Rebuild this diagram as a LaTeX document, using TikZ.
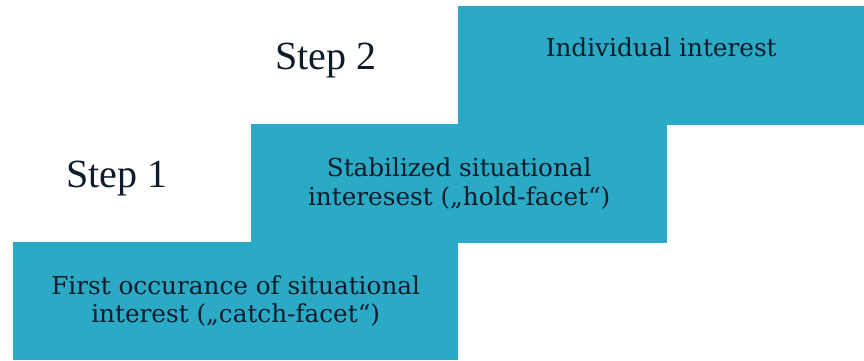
\documentclass[tikz,border=0pt]{standalone}
\usepackage{fontspec}
\setmainfont{DejaVu Serif}
\newfontfamily\steplabelfont{Liberation Serif}
\usepackage{xcolor}
\usepackage{tikz}
\definecolor{teal}{HTML}{2BAAC6}
\definecolor{ink}{HTML}{0D1B2A}
\tikzset{
  stairbox/.style={fill=teal, draw=none, inner sep=0pt, anchor=south west,
    text=ink, align=center, font=\fontsize{24.7}{28.5}\selectfont},
  steplab/.style={text=ink, anchor=base, font=\steplabelfont\fontsize{40}{44}\selectfont},
}

\begin{document}
\begin{tikzpicture}[x=1pt,y=1pt]
  \useasboundingbox (0,0) rectangle (864,360);

  \node[stairbox, minimum width=445pt, minimum height=117.5pt] (catch) at (13,0)
    {First occurance of situational\\interest („catch-facet“)};
  \node[stairbox, minimum width=416pt, minimum height=118.5pt] (hold) at (251,117)
    {Stabilized situational\\interesest („hold-facet“)};
  \node[stairbox, minimum width=406pt, minimum height=119pt] (indiv) at (458,235)
    {Individual interest\\\strut};

  \node[steplab] (step1) at (117,173) {Step 1};
  \node[steplab] (step2) at (326,291) {Step 2};
\end{tikzpicture}
\end{document}
